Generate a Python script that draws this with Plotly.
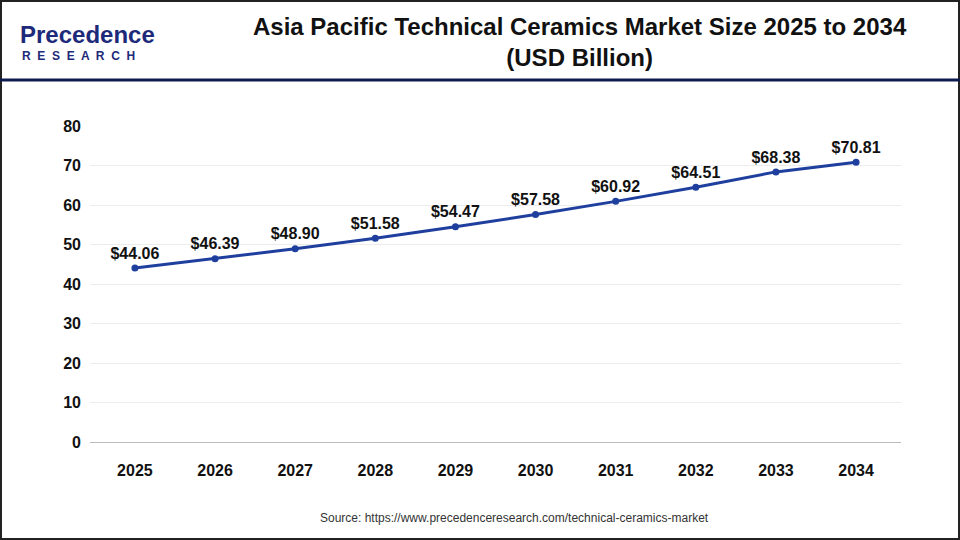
import plotly.graph_objects as go

years = ["2025","2026","2027","2028","2029","2030","2031","2032","2033","2034"]
values = [44.06,46.39,48.90,51.58,54.47,57.58,60.92,64.51,68.38,70.81]
labels = ["$%.2f" % v for v in values]

L, R, T, B = 90, 59, 126, 98
PW, PH = 960 - L - R, 540 - T - B

fig = go.Figure(go.Scatter(
    x=years, y=values, mode="lines+markers+text",
    line=dict(color="#1f3f9e", width=3), marker=dict(size=7, color="#1f3f9e"),
    text=labels, textposition="top center",
    textfont=dict(family="Arial", size=16, color="#111111", weight="bold"),
    cliponaxis=False, hoverinfo="skip"))

fig.update_layout(
    width=960, height=540, paper_bgcolor="white", plot_bgcolor="white",
    margin=dict(l=L, r=R, t=T, b=B), showlegend=False,
    font=dict(family="Arial", color="#111111"),
    xaxis=dict(type="category", showgrid=False, showline=True, linecolor="#bbbbbb",
               linewidth=1, ticks="", ticklabelstandoff=14,
               tickfont=dict(size=16, family="Arial", weight="bold")),
    yaxis=dict(range=[0, 80], dtick=10, showgrid=True, gridcolor="#ececec",
               zeroline=False, ticks="", ticklabelstandoff=8,
               tickfont=dict(size=16, family="Arial", weight="bold")),
    shapes=[
        dict(type="rect", xref="paper", yref="paper", x0=-(L-1)/PW, x1=1+(R-1)/PW,
             y0=-(B-1)/PH, y1=1+(T-1)/PH, line=dict(color="#222222", width=2)),
        dict(type="line", xref="paper", yref="paper", x0=-L/PW, x1=1+R/PW,
             y0=1+(T-80)/PH, y1=1+(T-80)/PH, line=dict(color="#0d1a4a", width=3)),
    ],
    annotations=[
        dict(text="<b>Asia Pacific Technical Ceramics Market Size 2025 to 2034<br>(USD Billion)</b>",
             xref="paper", yref="paper", x=(580-L)/PW, y=1+(T-42)/PH, xanchor="center", yanchor="middle",
             showarrow=False, font=dict(size=24, family="Arial", color="#111111")),
        dict(text="Source: https://www.precedenceresearch.com/technical-ceramics-market",
             xref="paper", yref="paper", x=(514-L)/PW, y=-(518-(540-B))/PH, xanchor="center", yanchor="middle",
             showarrow=False, font=dict(size=12, family="Arial", color="#333333")),
        dict(text="Precedence", xref="paper", yref="paper", x=-(L-18)/PW, y=1+(T-34)/PH,
             xanchor="left", yanchor="middle", showarrow=False,
             font=dict(size=24, family="Arial", color="#1d2a7a", weight="bold")),
        dict(text="R  E  S  E  A  R  C  H", xref="paper", yref="paper", x=-(L-20)/PW, y=1+(T-56)/PH,
             xanchor="left", yanchor="middle", showarrow=False,
             font=dict(size=12, family="Arial", color="#1d2a7a", weight="bold")),
    ])

fig.write_html("out.html", config={"displayModeBar": False},
               post_script="document.body.style.margin='0';")
